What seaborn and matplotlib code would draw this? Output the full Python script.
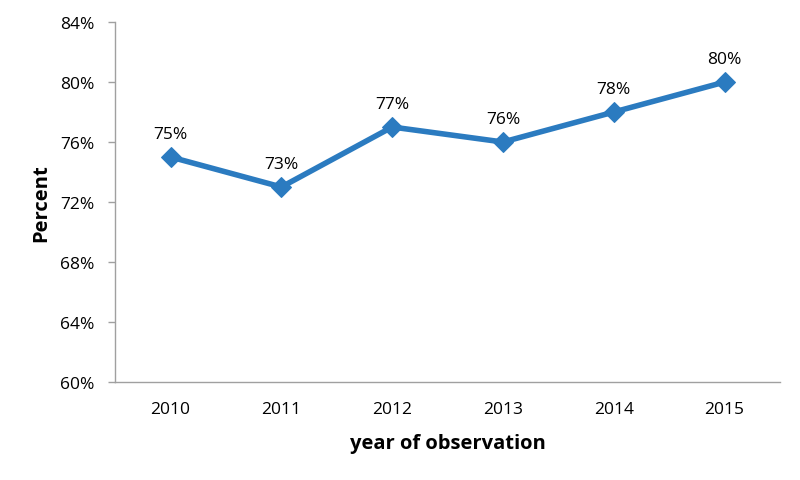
import numpy as np
import pandas as pd
import matplotlib
matplotlib.use("Agg")
import matplotlib.pyplot as plt
from matplotlib.ticker import FixedLocator
import seaborn as sns

# chart data
years = ["2010", "2011", "2012", "2013", "2014", "2015"]
percent = [75, 73, 77, 76, 78, 80]
y_ticks = [60, 64, 68, 72, 76, 80, 84]

sns.set_style("white")
plt.rcParams['font.family'] = ['Open Sans', 'DejaVu Sans']

df = pd.DataFrame({"pos": np.arange(len(years)), "year": years, "percent": percent})

fig = plt.figure(figsize=(8, 4.81), dpi=100)
ax = fig.add_axes([0.144, 0.204, 0.831, 0.748])

line_color = "#2b7bc0"
sns.lineplot(data=df, x="pos", y="percent", ax=ax, color=line_color,
             linewidth=4, marker="D", markersize=10, markeredgecolor=line_color)

# data labels above each point
for p, v in zip(df["pos"], df["percent"]):
    ax.annotate(f"{v}%", (p, v), xytext=(0, 11), textcoords="offset points",
                ha="center", va="bottom", fontsize=12.5, color="black")

ax.set_xlim(-0.5, len(years) - 0.5)
ax.set_ylim(60, 84)
ax.set_yticks(y_ticks)
ax.set_yticklabels([f"{t}%" for t in y_ticks], fontsize=12.5, color="black")
ax.set_xticks(df["pos"])
ax.set_xticklabels(years, fontsize=12.5, color="black")
ax.xaxis.set_minor_locator(FixedLocator(np.arange(-0.5, len(years), 1.0)))
ax.tick_params(axis="x", which="major", length=0, pad=14)
ax.tick_params(axis="x", which="minor", length=5, color="#a0a0a0", width=1)
ax.tick_params(axis="y", which="major", length=5, color="#a0a0a0", width=1, pad=10, left=True)

for s in ["top", "right"]:
    ax.spines[s].set_visible(False)
for s in ["left", "bottom"]:
    ax.spines[s].set_color("#a0a0a0")
    ax.spines[s].set_linewidth(1)

ax.set_xlabel("year of observation", fontsize=14.5, fontweight="bold", labelpad=11, color="black")
ax.set_ylabel("Percent", fontsize=14.5, fontweight="bold", labelpad=6, color="black")

fig.savefig("out.png", dpi=100)
